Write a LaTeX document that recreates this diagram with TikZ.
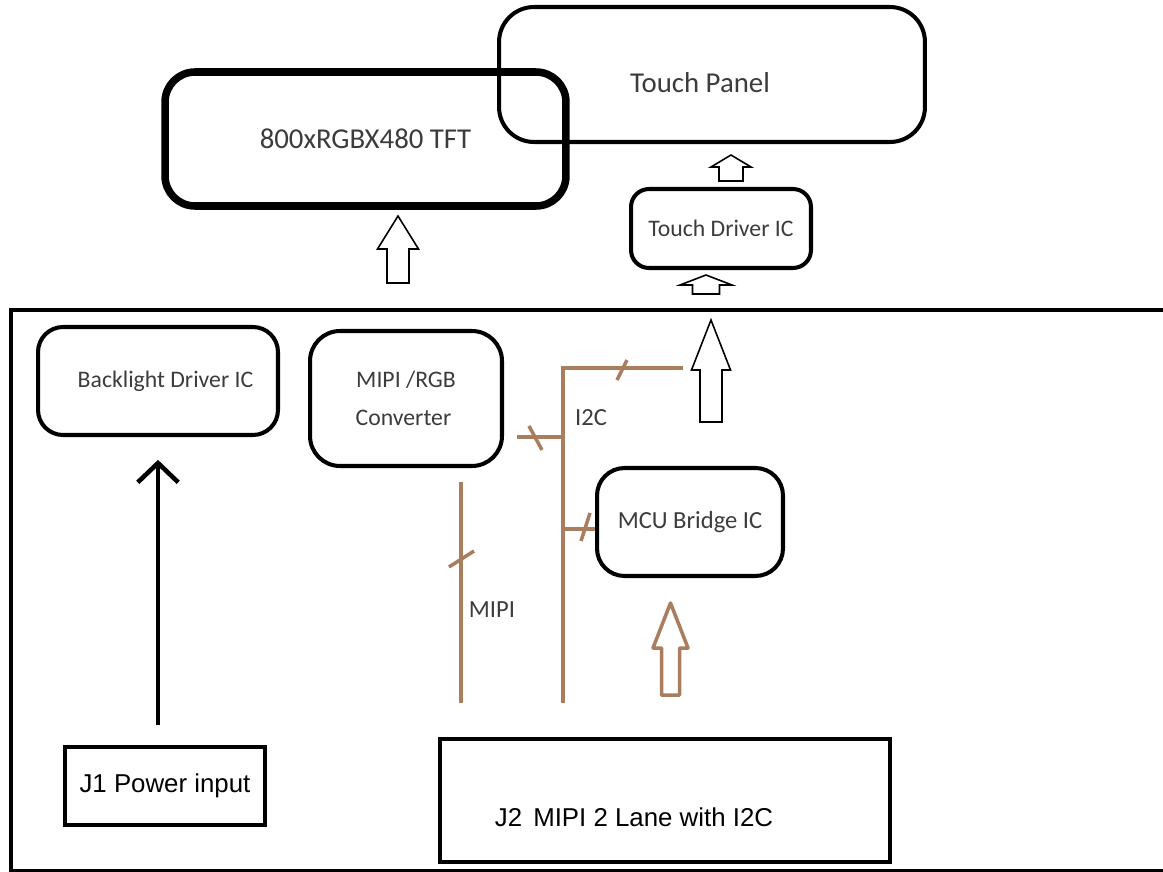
\documentclass[tikz,border=0pt]{standalone}
\usepackage{fontspec}
\setmainfont{Carlito}
\newfontfamily\arialf{Liberation Sans}
\usetikzlibrary{arrows.meta}
\definecolor{wire}{RGB}{170,125,95}
\definecolor{txt}{RGB}{60,60,60}
\newcommand\hollowup[7][]{%
  \draw[#1] (#2-#7,#5) -- (#2-#7,#4) -- (#2-#6,#4) -- (#2,#3) -- (#2+#6,#4) -- (#2+#7,#4) -- (#2+#7,#5) -- cycle;}
\tikzset{
  rbox/.style={draw, line width=2.3pt, rounded corners=#1, inner sep=0pt, text=txt, align=center},
  sqbox/.style={draw, line width=2.6pt, inner sep=0pt, font=\arialf\fontsize{14.7}{17}\selectfont},
  bigtxt/.style={font=\fontsize{16.4}{19}\selectfont},
  smalltxt/.style={font=\fontsize{13.5}{22}\selectfont},
  midtxt/.style={font=\fontsize{14}{17}\selectfont},
  wireline/.style={draw=wire, line width=2pt},
  slash/.style={draw=wire, line width=2pt},
  hollow/.style={draw=black, line width=0.9pt, fill=white, line join=miter},
  hollowbrown/.style={draw=wire, line width=2pt, fill=white, line join=round},
  blackarrow/.style={line width=2.6pt, -{Straight Barb[length=11pt,width=23pt,line width=2.6pt]}},
  lbl/.style={text=txt, font=\fontsize{14}{17}\selectfont, inner sep=0pt}
}
\begin{document}
\begin{tikzpicture}[x=0.02cm, y=-0.02cm]
\useasboundingbox (0,0) rectangle (1163,872);
\fill[white] (0,0) rectangle (1163,872);

% displays
\node[rbox=0.6cm, line width=4.3pt, minimum width=8.02cm, minimum height=2.68cm, bigtxt] (tft) at (365.5,139) {800xRGBX480 TFT};
\node[rbox=0.7cm, minimum width=8.52cm, minimum height=2.7cm,
      label={[shift={(-0.24cm,-0.17cm)}, text=txt, bigtxt]center:Touch Panel}] (tp) at (712,74.5) {};
\node[rbox=0.36cm, minimum width=3.6cm, minimum height=1.58cm, smalltxt] (tdic) at (721,228.5) {Touch Driver IC};

% arrows above board
\hollowup[hollow]{398}{216}{249}{283}{20.5}{11}
\hollowup[hollow]{731}{155}{167}{181}{20}{12}
\hollowup[hollow]{706}{275}{285}{294}{26}{13.5}

% board
\draw[line width=2.8pt] (1175,310) -- (11,310) -- (11,871) -- (1175,871);

\node[rbox=0.5cm, minimum width=4.8cm, minimum height=2.16cm, smalltxt] (bl) at (158,381) {\hspace*{0.3cm}Backlight Driver IC};
\node[rbox=0.6cm, minimum width=3.84cm, minimum height=2.7cm, smalltxt] (conv) at (406,398.5) {MIPI /RGB\\Converter\hspace*{0.1cm}};
\node[rbox=0.55cm, minimum width=3.72cm, minimum height=2.16cm, midtxt] (mcu) at (690,522) {MCU Bridge IC};

\node[sqbox, minimum width=4.0cm, minimum height=1.56cm] (j1) at (165,786) {J1 Power input};
\node[sqbox, line width=2.3pt, minimum width=9.0cm, minimum height=2.46cm,
      label={[shift={(-0.62cm,-0.33cm)}, font=\arialf\fontsize{14.7}{17}\selectfont]center:J2\hspace{0.15em} MIPI 2 Lane with I2C}] (j2) at (665,800.5) {};

% power arrow
\draw[blackarrow, shorten <=11.3pt, shorten >=13pt] (bl.south |- j1.north) -- (bl.south);

% MIPI bus
\coordinate (mipiTop) at (461,482);
\coordinate (mipiBot) at (461,703);
\draw[wireline] (mipiTop) -- (mipiBot);
\draw[slash] (449,567) -- (474,551);
\node[lbl] (mipilbl) at (492,610) {MIPI};

% I2C bus
\coordinate (i2cBot) at (563,703);
\coordinate (i2cCorner) at (563,368);
\coordinate (i2cEnd) at (683,368);
\coordinate (convTap) at (563,437);
\coordinate (convEnd) at (517,437);
\coordinate (mcuTap) at (563,529);
\draw[wireline, line join=miter] (i2cBot) -- (i2cCorner) -- (i2cEnd);
\draw[wireline] (convEnd) -- (convTap);
\draw[wireline] (mcuTap) -- (mcu.west |- mcuTap);
\draw[slash] (627,360) -- (617,380);
\draw[slash] (529,426) -- (542,450);
\draw[slash] (590,513) -- (581,541);
\node[lbl] (i2clbl) at (591,418) {I2C};

% arrows inside board
\hollowup[hollow]{711}{320}{370}{422}{19.5}{11}
\hollowup[hollowbrown]{670.5}{603}{648}{695}{17.5}{9}
\end{tikzpicture}
\end{document}
